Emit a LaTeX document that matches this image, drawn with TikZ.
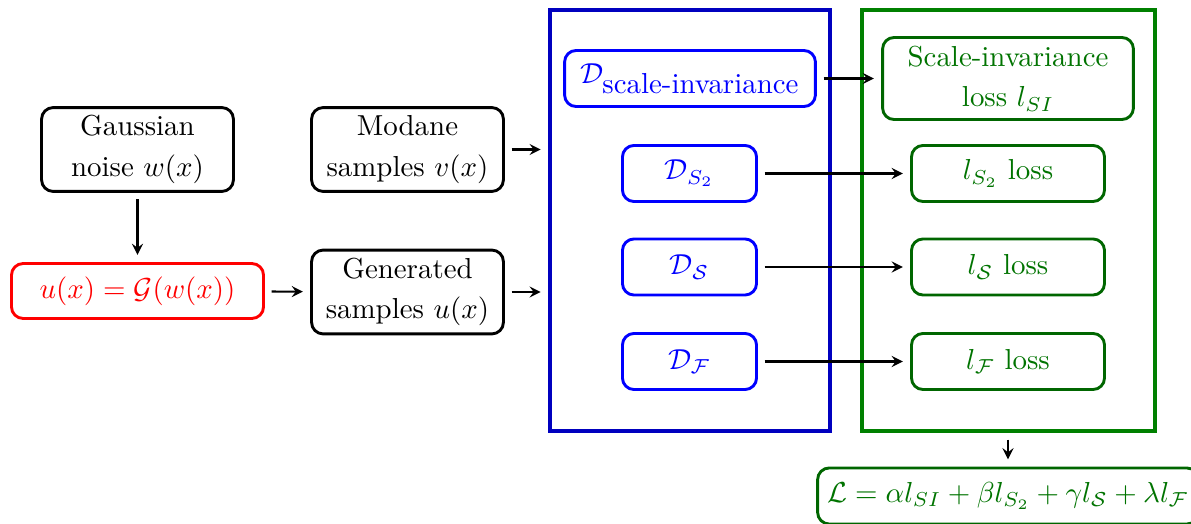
\documentclass[tikz,border=0pt]{standalone}
\usepackage{amsmath, amssymb}
\usepackage{xcolor}
\usetikzlibrary{positioning}

\tikzset{
  box/.style={draw, line width=1pt, rounded corners, align=center, inner ysep=2pt,
    minimum width=66.4pt, minimum height=29pt},
  dbox/.style={box, blue, minimum width=46.4pt, minimum height=19.4pt},
  lbox/.style={box, draw=green!40!black, text=green!45!black,
    minimum width=66.8pt, minimum height=19.4pt},
  bigframe/.style={draw, line width=1.4pt, minimum height=145.7pt},
  arr/.style={-stealth, line width=0.7pt, shorten >=2.5pt, shorten <=2.3pt}
}

\begin{document}
\begin{tikzpicture}[x=0.01216cm, y=-0.01216cm]
\useasboundingbox (0,0) rectangle (1191,524);

% inputs
\node[box] (noise) at (137.5,149.5) {Gaussian\\[2pt] noise $w(x)$};
\node[box, red, minimum width=87.2pt, minimum height=19pt] (gen) at (137.5,291) {$u(x) = \mathcal{G}(w(x))$};
\node[box] (modane) at (407.5,149.5) {Modane\\[2pt] samples $v(x)$};
\node[box] (gensamp) at (407.5,292) {Generated\\[2pt] samples $u(x)$};

% frames
\node[bigframe, blue!75!black, minimum width=96.9pt] (dframe) at (690,220.5) {};
\node[bigframe, green!50!black, minimum width=101.4pt] (lframe) at (1008.5,220.5) {};

% discriminators
\node[dbox, minimum width=86.8pt] (dsi) at (690,78.5) {$\mathcal{D}_{\mbox{scale-invariance}}$};
\node[dbox] (ds2) at (689.5,173.5) {$\mathcal{D}_{S_2}$};
\node[dbox] (ds) at (689.5,267) {$\mathcal{D}_{\mathcal{S}}$};
\node[dbox] (df) at (689.5,361.5) {$\mathcal{D}_{\mathcal{F}}$};

% losses
\node[lbox, minimum width=86.8pt, minimum height=28.4pt] (lsi) at (1008,78.5) {Scale-invariance\\[2pt] loss $l_{SI}$};
\node[lbox] (ls2) at (1008,173.5) {$l_{S_2}$ loss};
\node[lbox] (ls) at (1008,267) {$l_{\mathcal{S}}$ loss};
\node[lbox] (lf) at (1008,361.5) {$l_{\mathcal{F}}$ loss};
\node[lbox, minimum width=127pt] (total) at (1008,496) {$\mathcal{L} = \alpha l_{SI} + \beta l_{S_2} + \gamma l_{\mathcal{S}} + \lambda l_{\mathcal{F}}$};

\draw[arr] (noise) -- (gen);
\draw[arr] (gen) -- (gensamp);
\draw[arr] (modane.east) -- (modane.east -| dframe.west);
\draw[arr] (gensamp.east) -- (gensamp.east -| dframe.west);
\draw[arr] (dsi) -- (lsi);
\draw[arr] (ds2) -- (ls2);
\draw[arr] (ds) -- (ls);
\draw[arr] (df) -- (lf);
\draw[arr] (lframe.south -| total) -- (total);
\end{tikzpicture}
\end{document}
